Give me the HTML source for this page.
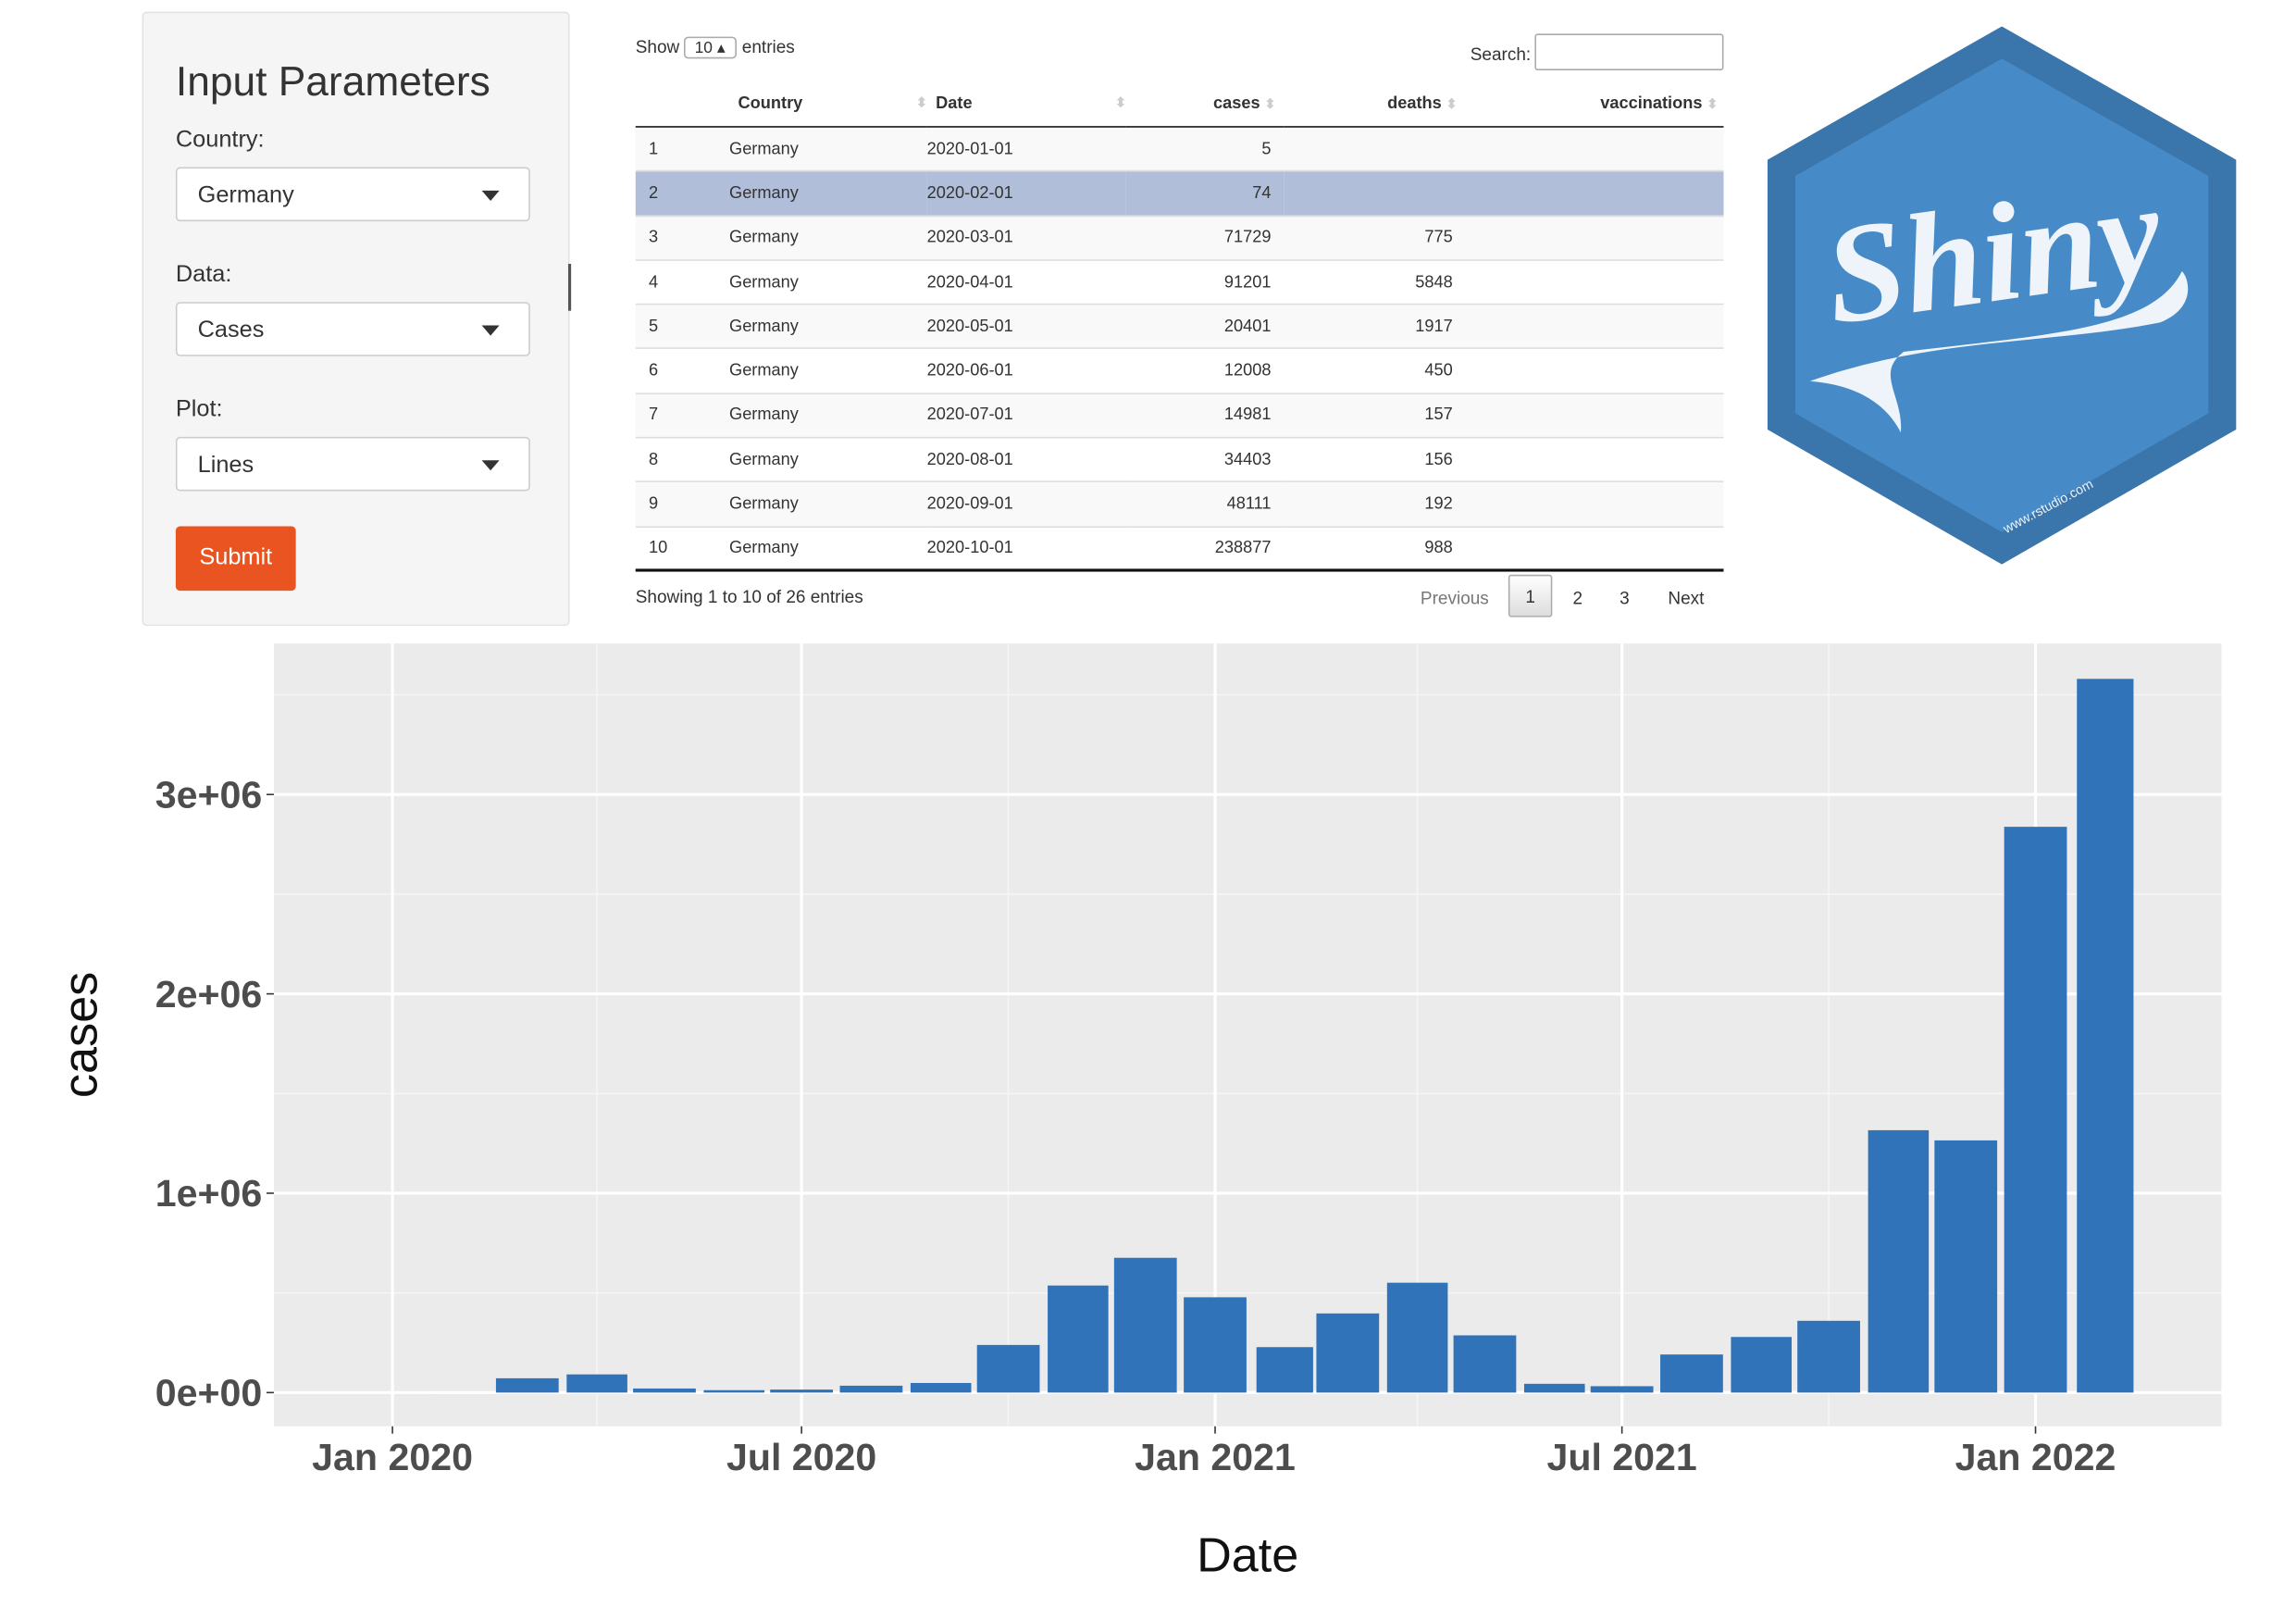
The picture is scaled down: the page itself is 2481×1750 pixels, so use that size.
<!DOCTYPE html>
<html><head><meta charset="utf-8">
<style>
html,body{margin:0;padding:0;background:#fff;overflow:hidden;width:2481px;height:1749px}
#stage{position:absolute;left:0;top:0;width:1568px;height:1105px;transform-origin:0 0;transform:scale(1.5824,1.5835);font-family:"Liberation Sans",sans-serif;color:#333}
.abs{position:absolute}
.sidebar{left:97px;top:8px;width:290px;height:417px;background:#f5f5f5;border:1px solid #e3e3e3;border-radius:3px}
.lbl{font-size:16px;color:#333}
.sel{width:242px;height:37px;background:#fff;border:1px solid #ccc;border-radius:3px;box-sizing:border-box;font-size:16px;line-height:37px;padding-left:14px}
.sel .car{position:absolute;right:20px;top:15px;width:0;height:0;border-left:6px solid transparent;border-right:6px solid transparent;border-top:7px solid #333}
table{border-collapse:collapse;font-size:11.5px}
.tw{left:434px;top:55px;width:743px}
.tw th{height:31px;font-weight:bold;border-bottom:1.5px solid #111;text-align:left;padding:0}
.tw th.r{text-align:right}
.tw td{height:29.3px;padding:0;border-top:1px solid #ddd}
.tw tr.odd td{background:#f9f9f9}
.tw tr.sel2 td{background:#b0bed9}
.r{text-align:right}
.pg{font-size:12px;color:#333}
.sort{color:#ccc;font-size:9px;margin-left:3px}
</style></head><body>
<div id="stage">
  <div class="abs sidebar"></div>
  <div class="abs" style="left:120px;top:40px;font-size:28px;color:#333">Input Parameters</div>
  <div class="abs lbl" style="left:120px;top:87px">Country:</div>
  <div class="abs sel" style="left:120px;top:114px">Germany<span class="car"></span></div>
  <div class="abs lbl" style="left:120px;top:179px">Data:</div>
  <div class="abs sel" style="left:120px;top:206px">Cases<span class="car"></span></div>
  <div class="abs lbl" style="left:120px;top:271px">Plot:</div>
  <div class="abs sel" style="left:120px;top:298px">Lines<span class="car"></span></div>
  <div class="abs" style="left:120px;top:359px;width:82px;height:44px;background:#e95420;border-radius:3px;color:#fff;font-size:16px;line-height:44px;text-align:center">Submit</div>
  <div class="abs" style="left:388px;top:180px;width:2px;height:32px;background:#555"></div>

  <div class="abs pg" style="left:434px;top:25px">Show <span style="display:inline-block;border:1px solid #aaa;border-radius:3px;width:36px;height:15px;line-height:15px;padding-left:6px;box-sizing:border-box;font-size:11px">10 ▴</span> entries</div>
  <div class="abs pg" style="left:1004px;top:30px">Search:</div>
  <div class="abs" style="left:1048px;top:23px;width:129px;height:25px;border:1px solid #aaa;border-radius:2px;box-sizing:border-box;background:#fff"></div>

  <table class="abs tw">
    <thead><tr>
      <th style="width:63px"></th><th style="width:129px;padding-left:7px">Country<span class="sort" style="float:right">⬍</span></th><th style="width:130px;padding-left:6px">Date<span class="sort" style="float:right">⬍</span></th><th class="r" style="width:102px;padding-right:6px">cases<span class="sort">⬍</span></th><th class="r" style="width:118px;padding-right:6px">deaths<span class="sort">⬍</span></th><th class="r" style="padding-right:4px">vaccinations<span class="sort">⬍</span></th>
    </tr></thead>
    <tbody id="tb"></tbody>
  </table>
  <div class="abs" style="left:434px;top:388px;width:743px;height:1.5px;background:#111"></div>
  <div class="abs pg" style="left:434px;top:400px">Showing 1 to 10 of 26 entries</div>
  <div class="abs pg" style="left:970px;top:401px;color:#777">Previous</div>
  <div class="abs pg" style="left:1030px;top:392px;width:30px;height:29px;border:1px solid #aaa;border-radius:2px;box-sizing:border-box;background:linear-gradient(#fff,#ddd);text-align:center;line-height:28px">1</div>
  <div class="abs pg" style="left:1074px;top:401px">2</div>
  <div class="abs pg" style="left:1106px;top:401px">3</div>
  <div class="abs pg" style="left:1139px;top:401px">Next</div>

  <svg class="abs" style="left:0;top:0" width="1568" height="1105">
    <polygon points="1367,18 1527,109 1527,293 1367,385 1207,293 1207,109" fill="#3a76ab"/>
    <polygon points="1367,40 1508,120 1508,282 1367,363 1226,282 1226,120" fill="#468bc8"/>
    <path d="M1236,260 C1320,230 1400,235 1475,220 C1500,210 1495,190 1490,185 C1470,225 1400,228 1300,240 C1280,255 1300,270 1298,295 C1285,270 1260,262 1236,260Z" fill="#eef4f9"/>
    <text x="1362" y="205" text-anchor="middle" font-family="Liberation Serif,serif" font-style="italic" font-weight="bold" font-size="96" fill="#eef4f9" transform="rotate(-8 1362 180)">Shiny</text>
    <text x="1400" y="348" font-family="Liberation Sans,sans-serif" font-size="9" fill="#eef4f9" transform="rotate(-28 1400 348)" text-anchor="middle">www.rstudio.com</text>
  </svg>

  <svg id="chart" class="abs" style="left:0;top:0" width="1568" height="1105"></svg>
</div>
<script>
var rows=[["Germany","2020-01-01","5",""],["Germany","2020-02-01","74",""],["Germany","2020-03-01","71729","775"],["Germany","2020-04-01","91201","5848"],["Germany","2020-05-01","20401","1917"],["Germany","2020-06-01","12008","450"],["Germany","2020-07-01","14981","157"],["Germany","2020-08-01","34403","156"],["Germany","2020-09-01","48111","192"],["Germany","2020-10-01","238877","988"]];
var tb=document.getElementById('tb');
rows.forEach(function(r,i){
  var tr=document.createElement('tr');
  tr.className=i==1?'sel2':(i%2==0?'odd':'');
  
  
  tr.innerHTML='<td style="padding-left:9px">'+(i+1)+'</td><td style="padding-left:1px">'+r[0]+'</td><td>'+r[1]+'</td><td class="r" style="padding-right:9px">'+r[2]+'</td><td class="r" style="padding-right:9px">'+r[3]+'</td><td></td>';
  tb.appendChild(tr);
});

var months=["2020-01","2020-02","2020-03","2020-04","2020-05","2020-06","2020-07","2020-08","2020-09","2020-10","2020-11","2020-12","2021-01","2021-02","2021-03","2021-04","2021-05","2021-06","2021-07","2021-08","2021-09","2021-10","2021-11","2021-12","2022-01","2022-02"];
var cases=[5,74,71729,91201,20401,12008,14981,34403,48111,238877,537000,676000,478000,228000,397000,551000,287000,44000,32000,191000,279000,360000,1316000,1265000,2838000,3580000];
var yTicks=[0,1000000,2000000,3000000];
var yTickLabels=["0e+00","1e+06","2e+06","3e+06"];
var xTicks=["2020-01-01","2020-07-01","2021-01-01","2021-07-01","2022-01-01"];
var xTickLabels=["Jan 2020","Jul 2020","Jan 2021","Jul 2021","Jan 2022"];

var NS='http://www.w3.org/2000/svg';
var svg=document.getElementById('chart');
var P={l:187,r:1517,t:439,b:973};
var t0=Date.UTC(2020,0,1),t1=Date.UTC(2022,0,1);
function day(s){var p=s.split('-');return Date.UTC(+p[0],+p[1]-1,p[2]?+p[2]:1);}
function x(ms){return 268+(ms-t0)/(t1-t0)*(1390-268);}
function y(v){return 950-v*136/1000000;}
function el(tag,a,par){var e=document.createElementNS(NS,tag);for(var k in a)e.setAttribute(k,a[k]);(par||svg).appendChild(e);return e;}
var bg=el('rect',{x:P.l,y:P.t,width:P.r-P.l,height:P.b-P.t,fill:'#ebebeb'});


for(var i=0;i<yTicks.length;i++){var mv=yTicks[i]+500000;if(y(mv)>P.t){var g=el('line',{x1:P.l,x2:P.r,y1:y(mv),y2:y(mv),stroke:'#f5f5f5','stroke-width':1});}}
for(var i=0;i<xTicks.length;i++){var d=new Date(day(xTicks[i]));var md=Date.UTC(d.getUTCFullYear(),d.getUTCMonth()+3,1);var xm=x(md);if(xm<P.r){var g=el('line',{x1:xm,x2:xm,y1:P.t,y2:P.b,stroke:'#f5f5f5','stroke-width':1});}}
yTicks.forEach(function(v){var g=el('line',{x1:P.l,x2:P.r,y1:y(v),y2:y(v),stroke:'#fff','stroke-width':2});});
xTicks.forEach(function(s){var g=el('line',{x1:x(day(s)),x2:x(day(s)),y1:P.t,y2:P.b,stroke:'#fff','stroke-width':2});});
months.forEach(function(m,i){
  var st=day(m);var p=m.split('-');var nd=Date.UTC(+p[0],+p[1],1);var days=(nd-st)/86400000;
  var cx=x(st);var w=0.9*days*(1390-268)/731;
  var b=el('rect',{x:cx-w/2,y:y(cases[i]),width:w,height:Math.max(0,950-y(cases[i])),fill:'#3173b9'});
  
  
});
yTicks.forEach(function(v,i){
  var tk=el('line',{x1:182,x2:187,y1:y(v),y2:y(v),stroke:'#333','stroke-width':1});
  
  
  var t=el('text',{x:179,y:y(v)+9,'text-anchor':'end','font-size':26,'font-weight':'bold',fill:'#4d4d4d','font-family':'Liberation Sans,sans-serif'});
  t.textContent=yTickLabels[i];
  
  
});
xTicks.forEach(function(s,i){
  var tk=el('line',{x1:x(day(s)),x2:x(day(s)),y1:973,y2:978,stroke:'#333','stroke-width':1});
  
  
  var t=el('text',{x:x(day(s)),y:1003,'text-anchor':'middle','font-size':26,'font-weight':'bold',fill:'#4d4d4d','font-family':'Liberation Sans,sans-serif'});
  t.textContent=xTickLabels[i];
  
  
});
var xt=el('text',{x:852,y:1072,'text-anchor':'middle','font-size':33,fill:'#111','font-family':'Liberation Sans,sans-serif'});
xt.textContent='Date';


var yt=el('text',{x:0,y:0,'text-anchor':'middle','font-size':33,fill:'#111','font-family':'Liberation Sans,sans-serif',transform:'translate(66,706) rotate(-90)'});
yt.textContent='cases';


</script>
</body></html>
